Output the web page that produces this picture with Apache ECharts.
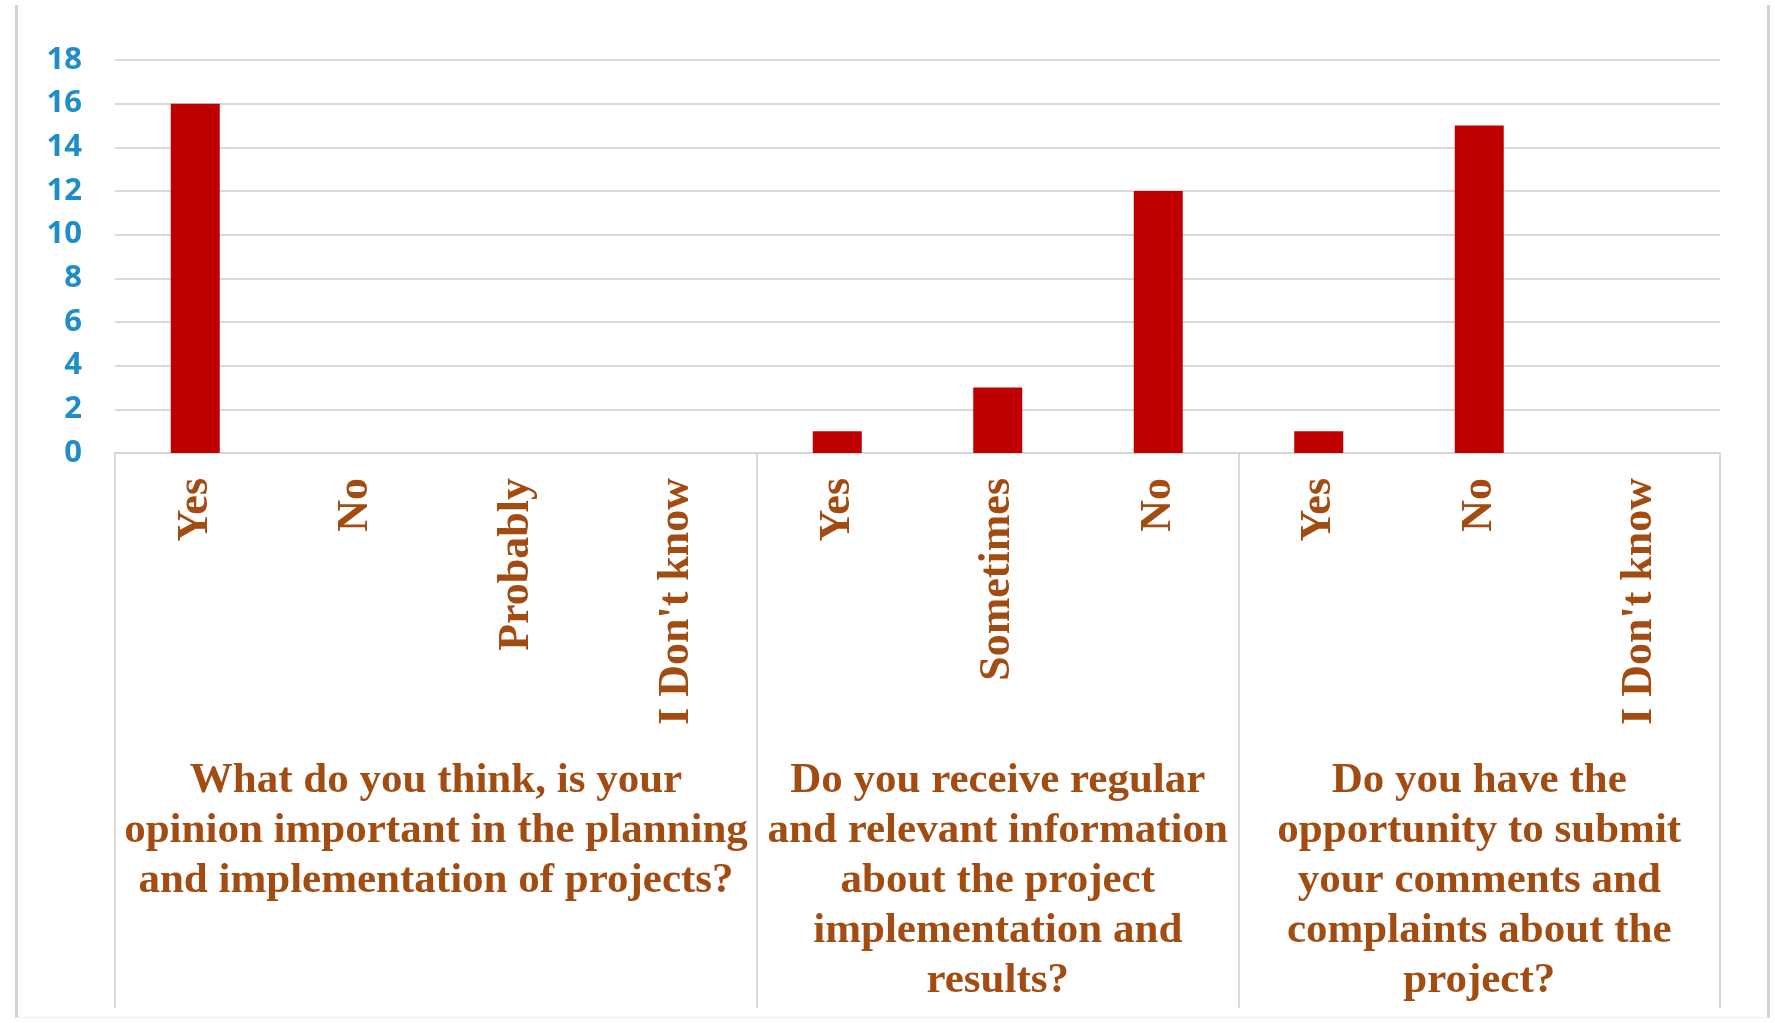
<!DOCTYPE html>
<html>
<head>
<meta charset="utf-8">
<script src="https://cdn.jsdelivr.net/npm/echarts@6/dist/echarts.min.js"></script>
<style>
  html, body { margin: 0; padding: 0; background: #fff; }
  #frame { position: absolute; left: 15px; top: 5px; width: 1749px; height: 1012px;
           border-left: 3px solid #d2d2d2; border-right: 3px solid #d2d2d2; border-bottom: 1px solid #eeeeee; }
  #chart { position: absolute; left: 0; top: 0; width: 1775px; height: 1023px; }
</style>
</head>
<body>
<div id="frame"></div>
<div id="chart"></div>
<script>
const categories = ['Yes', 'No', 'Probably', "I Don't know", 'Yes', 'Sometimes', 'No', 'Yes', 'No', "I Don't know"];
const values = [16, 0, 0, 0, 1, 3, 12, 1, 15, 0];
const groupLabels = [
  'What do you think, is your\nopinion important in the planning\nand implementation of projects?',
  'Do you receive regular\nand relevant information\nabout the project\nimplementation and\nresults?',
  'Do you have the\nopportunity to submit\nyour comments and\ncomplaints about the\nproject?'
];
const groupSizes = [4, 3, 3];
const yTicks = { min: 0, max: 18, interval: 2 };

// Group axis built on half-category steps (2 steps per category)
const steps = categories.length * 2;
const groupAxisData = new Array(steps + 1).fill('');
const boundaryIdx = [0];
let acc = 0;
groupSizes.forEach((n, i) => {
  const centerIdx = acc * 2 + n;
  groupAxisData[centerIdx] = groupLabels[i];
  acc += n;
  boundaryIdx.push(acc * 2);
});

const chart = echarts.init(document.getElementById('chart'), null, { renderer: 'canvas' });
const textBrown = '#A24C12';
chart.setOption({
  backgroundColor: 'transparent',
  animation: false,
  grid: [
    { left: 115, right: 55, top: 60, bottom: 570 },
    { left: 115, right: 55, top: 60, bottom: 570 }
  ],
  xAxis: [
    {
      type: 'category', gridIndex: 0, data: categories,
      axisLine: { show: true, lineStyle: { color: '#d6d6d6', width: 2 } },
      axisTick: { show: false },
      axisLabel: {
        interval: 0, rotate: 90, margin: 25,
        fontFamily: 'Liberation Serif', fontWeight: 'bold', fontSize: 44, color: textBrown
      }
    },
    {
      type: 'category', gridIndex: 1, position: 'bottom', boundaryGap: false,
      data: groupAxisData,
      axisLine: { show: false },
      axisTick: { show: true, length: 555, interval: (idx) => boundaryIdx.indexOf(idx) >= 0,
                  lineStyle: { color: '#d0d0d0', width: 1.5 } },
      axisLabel: {
        interval: 0, margin: 303, lineHeight: 50, align: 'center', verticalAlign: 'top',
        fontFamily: 'Liberation Serif', fontWeight: 'bold', fontSize: 43, color: textBrown
      }
    }
  ],
  yAxis: [
    {
      type: 'value', gridIndex: 0, min: yTicks.min, max: yTicks.max, interval: yTicks.interval,
      axisLine: { show: false }, axisTick: { show: false },
      splitLine: { lineStyle: { color: '#d9d9d9', width: 2 } },
      axisLabel: { margin: 33, fontFamily: 'Open Sans', fontWeight: 'bold', fontSize: 31, color: '#1F8DC6' }
    },
    {
      type: 'value', gridIndex: 1, min: yTicks.min, max: yTicks.max, interval: yTicks.interval,
      show: false
    }
  ],
  series: [
    {
      type: 'bar', xAxisIndex: 0, yAxisIndex: 0, data: values,
      barWidth: 49,
      itemStyle: { color: '#C00000', borderWidth: 0 }
    }
  ]
});
</script>
</body>
</html>
